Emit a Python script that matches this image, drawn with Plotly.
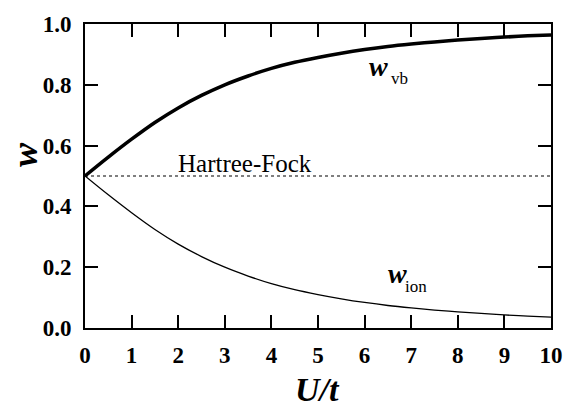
import plotly.graph_objects as go

u_t = [0, 0.5, 1, 1.5, 2, 2.5, 3, 3.5, 4, 4.5, 5, 5.5, 6, 6.5, 7, 7.5, 8, 8.5, 9, 9.5, 10]
w_vb = [0.500, 0.562, 0.621, 0.676, 0.724, 0.765, 0.800, 0.829, 0.854, 0.874, 0.890,
        0.904, 0.916, 0.926, 0.934, 0.941, 0.947, 0.952, 0.957, 0.961, 0.964]
w_ion = [0.500, 0.438, 0.379, 0.324, 0.276, 0.235, 0.200, 0.171, 0.146, 0.126, 0.110,
         0.096, 0.084, 0.074, 0.066, 0.059, 0.053, 0.048, 0.043, 0.039, 0.036]
hf_x = [0, 10]
hf_y = [0.5, 0.5]
x_ticks = [0, 1, 2, 3, 4, 5, 6, 7, 8, 9, 10]
y_ticks = [0.0, 0.2, 0.4, 0.6, 0.8, 1.0]

FONT = "Liberation Serif"
L, R, T, B = 85, 17, 17, 80
W, H = 575, 408
pw, ph = W - L - R, H - T - B

fig = go.Figure()
fig.add_trace(go.Scatter(x=hf_x, y=hf_y, mode="lines",
                         line=dict(color="black", width=1.2, dash="dot")))
fig.add_trace(go.Scatter(x=u_t, y=w_ion, mode="lines", line_shape="spline",
                         line=dict(color="black", width=1.3)))
fig.add_trace(go.Scatter(x=u_t, y=w_vb, mode="lines", line_shape="spline",
                         line=dict(color="black", width=3.5)))

tickfont = dict(family=FONT, size=23, color="black")

fig.update_layout(
    width=W, height=H,
    margin=dict(l=L, r=R, t=T, b=B),
    paper_bgcolor="white", plot_bgcolor="white",
    showlegend=False,
    font=dict(family=FONT, color="black"),
    xaxis=dict(range=[0, 10], tickvals=x_ticks, ticktext=[f"<b>{v}</b>" for v in x_ticks],
               showgrid=False, zeroline=False, showline=True, linecolor="black", linewidth=2,
               mirror="allticks", ticks="inside", ticklen=13, tickwidth=1.8, tickcolor="black",
               tickfont=tickfont, ticklabelstandoff=5),
    yaxis=dict(range=[0, 1], tickvals=y_ticks, ticktext=[f"<b>{v:.1f}</b>" for v in y_ticks],
               showgrid=False, zeroline=False, showline=True, linecolor="black", linewidth=2,
               mirror="allticks", ticks="inside", ticklen=13, tickwidth=1.8, tickcolor="black",
               tickfont=tickfont, ticklabelstandoff=7),
    annotations=[
        dict(x=(321 - L) / pw, y=(H - 391 - B) / ph, xref="paper", yref="paper",
             xanchor="center", yanchor="middle", showarrow=False, text="U/t",
             font=dict(family=FONT, size=34, color="black", weight="bold", style="italic")),
        dict(x=(24 - L) / pw, y=(H - 150 - B) / ph, xref="paper", yref="paper",
             xanchor="center", yanchor="middle", showarrow=False, text="w", textangle=-90,
             font=dict(family=FONT, size=36, color="black", weight="bold", style="italic")),
        dict(x=6.3, y=0.86, xref="x", yref="y", showarrow=False, text="w",
             font=dict(family=FONT, size=28, color="black", weight="bold", style="italic")),
        dict(x=6.52, y=0.82, xref="x", yref="y", showarrow=False, xanchor="left",
             text="vb", font=dict(family=FONT, size=17, color="black")),
        dict(x=6.7, y=0.178, xref="x", yref="y", showarrow=False, text="w",
             font=dict(family=FONT, size=28, color="black", weight="bold", style="italic")),
        dict(x=6.82, y=0.138, xref="x", yref="y", showarrow=False, xanchor="left",
             text="ion", font=dict(family=FONT, size=17, color="black")),
        dict(x=1.96, y=0.542, xref="x", yref="y", showarrow=False, xanchor="left",
             text="Hartree-Fock", font=dict(family=FONT, size=25, color="black")),
    ],
)

fig.write_html("out.html")
